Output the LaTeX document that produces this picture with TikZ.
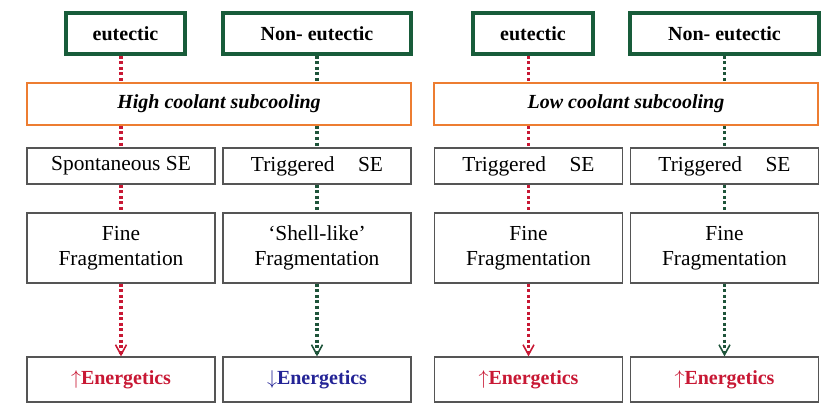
\documentclass[tikz,border=0pt]{standalone}
\usepackage{fontspec}
\setmainfont{Liberation Serif}
\usetikzlibrary{arrows.meta}
\definecolor{kindgreen}{RGB}{24,92,58}
\definecolor{coolorange}{RGB}{237,125,49}
\definecolor{eutred}{RGB}{200,24,52}
\definecolor{neutgreen}{RGB}{30,84,58}
\definecolor{lowblue}{RGB}{36,36,150}
\definecolor{boxgray}{RGB}{85,85,85}
\tikzset{
  kind/.style={draw=kindgreen, line width=1.6pt, font=\bfseries, minimum height=20.5pt, inner sep=0pt},
  cool/.style={draw=coolorange, line width=0.8pt, font=\bfseries\itshape, minimum width=192pt, minimum height=21pt, inner sep=0pt},
  stage/.style={draw=boxgray, line width=0.6pt, minimum width=94pt, align=center, inner sep=0pt},
  link/.style={line width=1.6pt, dash pattern=on 1.5pt off 1.3pt},
  tip/.style={-{Straight Barb[length=5pt,width=5.5pt,line width=0.8pt]}}
}
\begin{document}
\begin{tikzpicture}[x=0.5pt,y=-0.5pt,font=\fontsize{10.7}{12.5}\selectfont]
        \useasboundingbox (0,0) rectangle (827,406);
        % high subcooling
        \node[kind, minimum width=59.5pt] (eutH) at (125.5,33.5) {eutectic};
        \node[kind, minimum width=94pt] (neutH) at (317,33.5) {Non- eutectic};
        \node[cool] (high) at (219,104) {High coolant subcooling};
        \node[stage, minimum height=18pt] (seA) at (121,166) {Spontaneous SE};
        \node[stage, minimum height=18pt] (seB) at (317,166) {Triggered\hspace{1.1em}SE};
        \node[stage, minimum height=35pt] (fragA) at (121,248) {Fine\\Fragmentation};
        \node[stage, minimum height=35pt] (fragB) at (317,248) {`Shell-like'\\Fragmentation};
        \node[stage, minimum height=22.5pt, font=\bfseries, text=eutred] (enA) at (121,379.5) {$\uparrow$Energetics};
        \node[stage, minimum height=22.5pt, font=\bfseries, text=lowblue] (enB) at (317,379.5) {$\downarrow$Energetics};

        % low subcooling
        \node[kind, minimum width=60pt] (eutL) at (533,33.5) {eutectic};
        \node[kind, minimum width=94.5pt] (neutL) at (724.5,33.5) {Non- eutectic};
        \node[cool] (low) at (626,104) {Low coolant subcooling};
        \node[stage, minimum height=18pt] (seC) at (528.5,166) {Triggered\hspace{1.1em}SE};
        \node[stage, minimum height=18pt] (seD) at (724.5,166) {Triggered\hspace{1.1em}SE};
        \node[stage, minimum height=35pt] (fragC) at (528.5,248) {Fine\\Fragmentation};
        \node[stage, minimum height=35pt] (fragD) at (724.5,248) {Fine\\Fragmentation};
        \node[stage, minimum height=22.5pt, font=\bfseries, text=eutred] (enC) at (528.5,379.5) {$\uparrow$Energetics};
        \node[stage, minimum height=22.5pt, font=\bfseries, text=eutred] (enD) at (724.5,379.5) {$\uparrow$Energetics};

        % dotted links
        \draw[link, eutred] (eutH.south -| seA) -- (high.north -| seA);
        \draw[link, eutred] (high.south -| seA) -- (seA.north);
        \draw[link, eutred] (seA.south) -- (fragA.north);
        \draw[link, eutred, tip] (fragA.south) -- (enA.north);
        \draw[link, neutgreen] (neutH.south -| seB) -- (high.north -| seB);
        \draw[link, neutgreen] (high.south -| seB) -- (seB.north);
        \draw[link, neutgreen] (seB.south) -- (fragB.north);
        \draw[link, neutgreen, tip] (fragB.south) -- (enB.north);

        \draw[link, eutred] (eutL.south -| seC) -- (low.north -| seC);
        \draw[link, eutred] (low.south -| seC) -- (seC.north);
        \draw[link, eutred] (seC.south) -- (fragC.north);
        \draw[link, eutred, tip] (fragC.south) -- (enC.north);
        \draw[link, neutgreen] (neutL.south -| seD) -- (low.north -| seD);
        \draw[link, neutgreen] (low.south -| seD) -- (seD.north);
        \draw[link, neutgreen] (seD.south) -- (fragD.north);
        \draw[link, neutgreen, tip] (fragD.south) -- (enD.north);
\end{tikzpicture}
\end{document}
